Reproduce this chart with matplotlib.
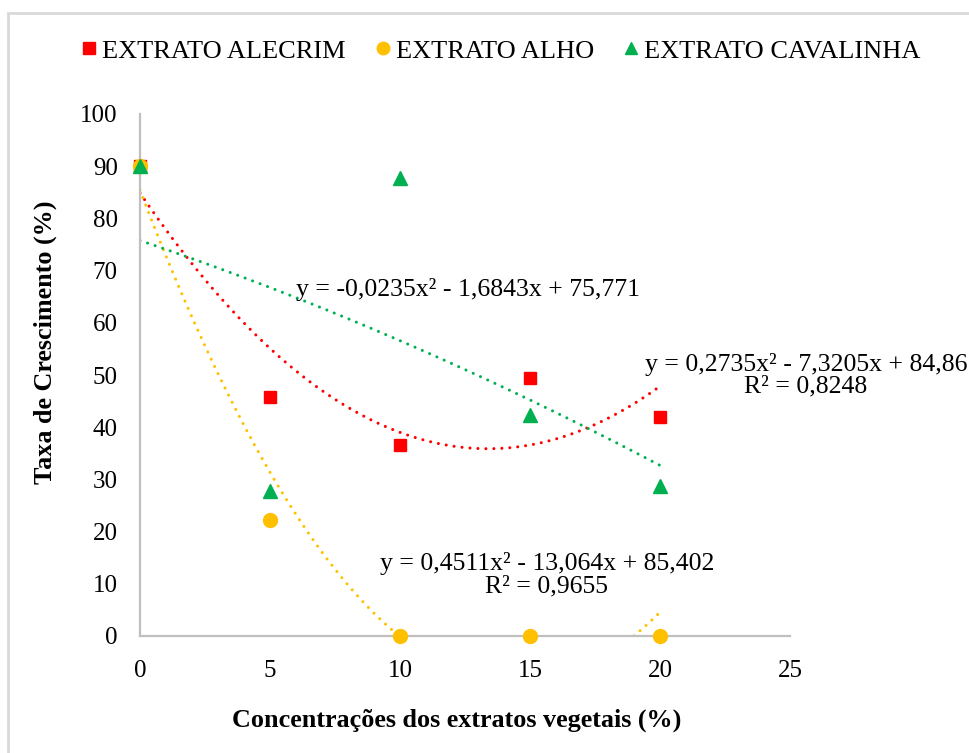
import numpy as np
import matplotlib
matplotlib.use("Agg")
import matplotlib.pyplot as plt
from matplotlib.lines import Line2D
from matplotlib.patches import Rectangle

plt.rcParams['font.family'] = ['Liberation Serif', 'DejaVu Serif']

# Concentrations (%)
concentracoes = [0, 5, 10, 15, 20]

# Growth rate (%) per extract
alecrim = [90, 45.7, 36.5, 49.5, 42.0]
alho = [90, 22.3, 0, 0, 0]
cavalinha = [90, 27.8, 87.8, 42.4, 28.8]

# Quadratic trendline coefficients (a, b, c) for y = a x^2 + b x + c
coef_alecrim = (0.2735, -7.3205, 84.86)
coef_alho = (0.4511, -13.064, 85.402)
coef_cavalinha = (-0.0235, -1.6843, 75.771)

eq_alecrim = "y = 0,2735x² - 7,3205x + 84,86\nR² = 0,8248"
eq_alho = "y = 0,4511x² - 13,064x + 85,402\nR² = 0,9655"
eq_cavalinha = "y = -0,0235x² - 1,6843x + 75,771"

labels = ["EXTRATO ALECRIM", "EXTRATO ALHO", "EXTRATO CAVALINHA"]
cores = ["#FF0000", "#FFC000", "#00B050"]

W, H = 969, 753
fig = plt.figure(figsize=(W / 100, H / 100), dpi=100)

# light outer chart frame
fig.patches.append(Rectangle((8 / W, -0.05), 1.1, 1 - 13 / H + 0.05,
                             transform=fig.transFigure, fill=False,
                             edgecolor="#d9d9d9", linewidth=2))

ax = fig.add_axes([140 / W, 1 - 636 / H, (790 - 140) / W, (636 - 114) / H])
ax.set_xlim(0, 25)
ax.set_ylim(0, 100)
ax.set_xticks(range(0, 26, 5))
ax.set_yticks(range(0, 101, 10))
for s in ["top", "right"]:
    ax.spines[s].set_visible(False)
for s in ["left", "bottom"]:
    ax.spines[s].set_color("#bfbfbf")
    ax.spines[s].set_linewidth(1.6)
ax.tick_params(length=0, labelsize=18, colors="black")
ax.tick_params(axis="x", pad=17)
ax.tick_params(axis="y", pad=16)

xs = np.linspace(0, 20, 400)
dot_style = dict(linestyle=(0, (0.01, 2.6)), dash_capstyle="round", linewidth=2.2)
for coef, cor in zip([coef_alecrim, coef_alho, coef_cavalinha], cores):
    a, b, c = coef
    ys = a * xs ** 2 + b * xs + c
    ys = np.where(ys < 0, np.nan, ys)
    ax.plot(xs, ys, color=cor, zorder=2, clip_on=True, **dot_style)

ax.plot(concentracoes, alecrim, "s", color=cores[0], markersize=8.5, linestyle="none", zorder=3, clip_on=False)
ax.plot(concentracoes, alho, "o", color=cores[1], markersize=10, linestyle="none", zorder=4, clip_on=False)
ax.plot(concentracoes, cavalinha, "^", color=cores[2], markersize=10, linestyle="none", zorder=5, clip_on=False)

ax.text(12.6, 66.3, eq_cavalinha, fontsize=18.5, ha="center", va="center")
ax.text(25.62, 50.0, eq_alecrim, fontsize=18.5, ha="center", va="center", linespacing=1.0, clip_on=False)
ax.text(15.65, 11.7, eq_alho, fontsize=18.5, ha="center", va="center", linespacing=1.0)

fig.text(457 / W, 1 - 720 / H, "Concentrações dos extratos vegetais (%)",
         fontsize=18.8, fontweight="bold", ha="center", va="center")
fig.text(45 / W, 1 - 342 / H, "Taxa de Crescimento (%)", rotation=90,
         fontsize=18.8, fontweight="bold", ha="center", va="center")

handles = [
    Line2D([], [], marker="s", color=cores[0], linestyle="none", markersize=8),
    Line2D([], [], marker="o", color=cores[1], linestyle="none", markersize=9),
    Line2D([], [], marker="^", color=cores[2], linestyle="none", markersize=9),
]
fig.legend(handles, labels, loc="center", bbox_to_anchor=(498 / W, 1 - 51 / H),
           ncol=3, frameon=False, fontsize=19, handletextpad=0.0,
           columnspacing=0.9, handlelength=1.0)

fig.savefig("out.png", dpi=100)
